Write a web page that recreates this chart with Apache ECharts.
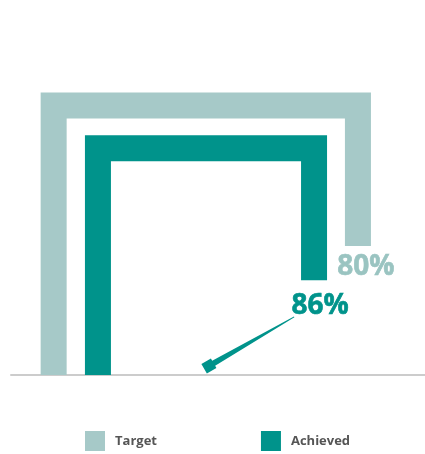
<!DOCTYPE html>
<html>
<head>
<meta charset="utf-8">
<script src="https://cdn.jsdelivr.net/npm/echarts@6/dist/echarts.min.js"></script>
<style>
  html, body { margin: 0; padding: 0; background: #fff; }
  #main { width: 425px; height: 454px; }
</style>
</head>
<body>
<div id="main"></div>
<script>
// categories and values
const categories = ['Target', 'Achieved'];
const values = [80, 86];
// frame outline of each category (axis units, 0-100)
const frameLeft = [10.3, 21.0];
const frameRight = [83.8, 73.2];
const frameTop = [71.9, 60.5];
const frameEnd = [34.4, 25.3];
// pointer from the achieved label down to the baseline
const arrowFrom = [68.4, 15.5];
const arrowTo = [47.8, 2.4];

const colors = ['#a6c9c8', '#00938b'];
const labelColors = ['#9ac4c1', '#00938b'];
const labelOffsets = [[8, 21], [6, 26]];

const chart = echarts.init(document.getElementById('main'));

let series = categories.map((name, i) => ({
  name: name,
  type: 'line',
  clip: false,
  symbol: 'none',
  color: colors[i],
  lineStyle: { width: 26, color: colors[i], cap: 'butt', join: 'miter' },
  data: [
    [frameLeft[i], 0],
    [frameLeft[i], frameTop[i]],
    [frameRight[i], frameTop[i]],
    [frameRight[i], frameEnd[i]]
  ],
  z: 2
}));

series.push({
  name: 'labels',
  type: 'scatter',
  symbolSize: 1,
  itemStyle: { color: 'rgba(0,0,0,0)', opacity: 1 },
  silent: true,
  data: categories.map((name, i) => ({
    value: [frameRight[i], frameEnd[i]],
    label: {
      show: true,
      position: 'inside',
      offset: labelOffsets[i],
      formatter: values[i] + '%',
      color: labelColors[i],
      textBorderColor: labelColors[i],
      textBorderWidth: 0.6,
      fontFamily: 'Open Sans',
      fontWeight: 'bold',
      fontSize: 28
    }
  })),
  z: 3
});

series.push({
  name: 'pointer',
  type: 'custom',
  silent: true,
  clip: false,
  data: [[arrowFrom[0], arrowFrom[1], arrowTo[0], arrowTo[1]]],
  renderItem: function (params, api) {
    const a = api.coord([api.value(0), api.value(1)]);
    const b = api.coord([api.value(2), api.value(3)]);
    const dx = b[0] - a[0], dy = b[1] - a[1];
    const len = Math.sqrt(dx * dx + dy * dy);
    const ux = dx / len, uy = dy / len;
    const nx = -uy, ny = ux;
    const h = 5.5; // head half size
    const c = [b[0] - ux * h, b[1] - uy * h];
    const w0 = 0.5, w1 = 3;
    const pts = [
      [a[0] + nx * w0, a[1] + ny * w0],
      [c[0] + nx * w1, c[1] + ny * w1],
      [c[0] + nx * h, c[1] + ny * h],
      [b[0] + ux * h + nx * h, b[1] + uy * h + ny * h],
      [b[0] + ux * h - nx * h, b[1] + uy * h - ny * h],
      [c[0] - nx * h, c[1] - ny * h],
      [c[0] - nx * w1, c[1] - ny * w1],
      [a[0] - nx * w0, a[1] - ny * w0]
    ];
    return {
      type: 'polygon',
      shape: { points: pts },
      style: { fill: colors[1] }
    };
  },
  z: 3
});

const option = {
  animation: false,
  backgroundColor: '#ffffff',
  grid: { left: 11, right: 0, top: 0, bottom: 79 },
  xAxis: {
    type: 'value',
    min: 0,
    max: 100,
    axisLine: { show: true, onZero: false, lineStyle: { color: '#cccccc', width: 2 } },
    axisTick: { show: false },
    axisLabel: { show: false },
    splitLine: { show: false }
  },
  yAxis: {
    type: 'value',
    min: 0,
    max: 100,
    show: false,
    splitLine: { show: false }
  },
  legend: {
    data: categories,
    left: 85,
    top: 431,
    padding: 0,
    icon: 'rect',
    itemWidth: 20,
    itemHeight: 20,
    itemGap: 104,
    textStyle: {
      color: '#555555',
      fontFamily: 'Open Sans',
      fontWeight: 'bold',
      fontSize: 13,
      padding: [0, 0, 0, 5]
    }
  },
  series: series
};

chart.setOption(option);
</script>
</body>
</html>
